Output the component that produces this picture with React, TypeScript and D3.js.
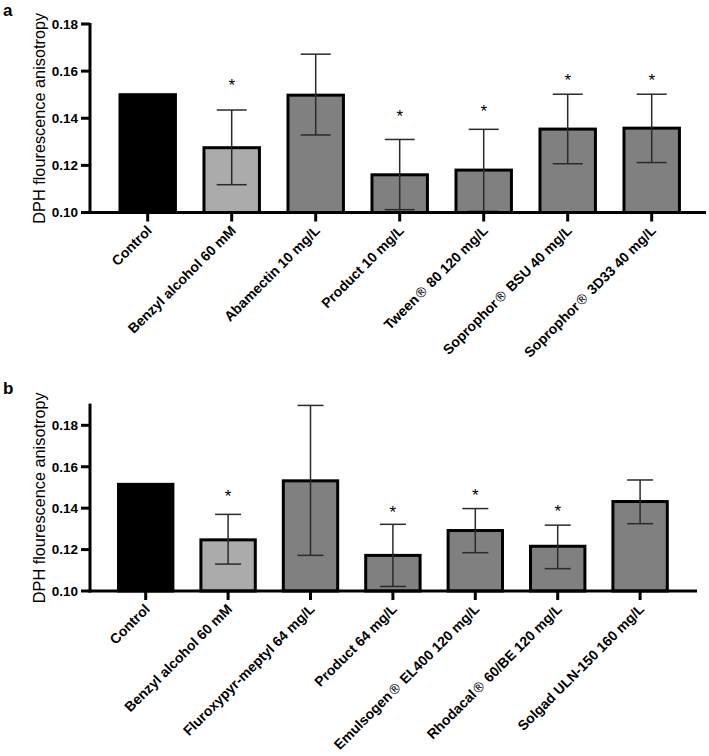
import React from "react";
import * as d3 from "d3";

// ---------- Data ----------
const catsA = [
  "Control",
  "Benzyl alcohol 60 mM",
  "Abamectin 10 mg/L",
  "Product 10 mg/L",
  "Tween® 80 120 mg/L",
  "Soprophor® BSU 40 mg/L",
  "Soprophor® 3D33 40 mg/L",
];
const meanA = [0.150, 0.1275, 0.1498, 0.1160, 0.1180, 0.1354, 0.1358];
const loA: (number | null)[] = [null, 0.1118, 0.1329, 0.1012, 0.1005, 0.1207, 0.1212];
const hiA: (number | null)[] = [null, 0.1435, 0.1672, 0.1310, 0.1353, 0.1502, 0.1502];
const starA: (number | null)[] = [null, 0.1555, null, 0.1422, 0.1443, 0.1575, 0.1575];

const catsB = [
  "Control",
  "Benzyl alcohol 60 mM",
  "Fluroxypyr-meptyl 64 mg/L",
  "Product 64 mg/L",
  "Emulsogen® EL400 120 mg/L",
  "Rhodacal® 60/BE 120 mg/L",
  "Solgad ULN-150 160 mg/L",
];
const meanB = [0.1515, 0.1247, 0.1532, 0.1172, 0.1292, 0.1216, 0.1432];
const loB: (number | null)[] = [null, 0.1130, 0.1172, 0.1022, 0.1185, 0.1108, 0.1325];
const hiB: (number | null)[] = [null, 0.1370, 0.1896, 0.1322, 0.1398, 0.1318, 0.1536];
const starB: (number | null)[] = [null, 0.1474, null, 0.1400, 0.1478, 0.1404, null];

const yTicks = [0.10, 0.12, 0.14, 0.16, 0.18];
const groupColors = ["#000000", "#ababab", "#808080", "#808080", "#808080", "#808080", "#808080"];
const yTitle = "DPH flourescence anisotropy";

const FONT = "'Liberation Sans', Arial, Helvetica, sans-serif";

type PanelProps = {
  letter: string;
  letterY: number;
  cats: string[];
  mean: number[];
  lo: (number | null)[];
  hi: (number | null)[];
  star: (number | null)[];
  yMax: number;
  yPix: [number, number];
  band: [number, number];
  axisEnd: number;
  capHalf: number;
};

function renderLabel(s: string) {
  const parts = s.split("®");
  const out: React.ReactNode[] = [];
  parts.forEach((p, i) => {
    out.push(<tspan key={"p" + i}>{p}</tspan>);
    if (i < parts.length - 1)
      out.push(
        <tspan key={"r" + i} fontWeight="normal" fontFamily="'DejaVu Sans', sans-serif" fontSize="13.5">
          ®
        </tspan>
      );
  });
  return out;
}

function Panel(p: PanelProps) {
  const x0 = 90;
  const y = d3.scaleLinear().domain([0.1, p.yMax]).range(p.yPix);
  const x = d3
    .scaleBand<string>()
    .domain(p.cats)
    .range(p.band)
    .paddingInner(0.34)
    .paddingOuter(0.17);
  const bw = x.bandwidth();
  const base = y(0.1);
  return (
    <g>
      <text x={3} y={p.letterY} fontFamily={FONT} fontWeight="bold" fontSize={17}>
        {p.letter}
      </text>
      <text
        transform={`translate(39,${(y(p.yMax) + base) / 2}) rotate(-90)`}
        textAnchor="middle"
        dominantBaseline="central"
        fontFamily={FONT}
        fontSize={16.3}
      >
        {yTitle}
      </text>
      {/* bars */}
      {p.cats.map((c, i) => (
        <rect
          key={c}
          x={(x(c) as number)}
          y={y(p.mean[i])}
          width={bw}
          height={base - y(p.mean[i])}
          fill={groupColors[i]}
          stroke="#000"
          strokeWidth={3}
        />
      ))}
      {/* error bars */}
      {p.cats.map((c, i) => {
        const lo = p.lo[i];
        const hi = p.hi[i];
        if (lo == null || hi == null) return null;
        const cx = (x(c) as number) + bw / 2;
        return (
          <g key={"e" + c} stroke="#2a2a2a" strokeWidth={1.5}>
            <line x1={cx} x2={cx} y1={y(lo)} y2={y(hi)} />
            <line x1={cx - p.capHalf} x2={cx + p.capHalf} y1={y(hi)} y2={y(hi)} />
            <line x1={cx - p.capHalf} x2={cx + p.capHalf} y1={y(lo)} y2={y(lo)} />
          </g>
        );
      })}
      {/* stars */}
      {p.cats.map((c, i) => {
        const s = p.star[i];
        if (s == null) return null;
        const cx = (x(c) as number) + bw / 2;
        return (
          <text
            key={"s" + c}
            x={cx}
            y={y(s)}
            dy="0.55em"
            textAnchor="middle"
            fontFamily={FONT}
            fontSize={17}
          >
            *
          </text>
        );
      })}
      {/* y axis */}
      <line x1={x0} x2={x0} y1={y(p.yMax) - 1} y2={base + 1.5} stroke="#000" strokeWidth={3} />
      {yTicks.map((t) => (
        <g key={"yt" + t}>
          <line x1={x0 - 9} x2={x0} y1={y(t)} y2={y(t)} stroke="#000" strokeWidth={3} />
          <text
            x={x0 - 12}
            y={y(t)}
            dy="0.36em"
            textAnchor="end"
            fontFamily={FONT}
            fontWeight="bold"
            fontSize={13.5}
          >
            {d3.format(".2f")(t)}
          </text>
        </g>
      ))}
      {/* x axis */}
      <line x1={x0 - 1.5} x2={p.axisEnd} y1={base} y2={base} stroke="#000" strokeWidth={3} />
      {p.cats.map((c) => {
        const cx = (x(c) as number) + bw / 2;
        return (
          <g key={"xt" + c}>
            <line x1={cx} x2={cx} y1={base} y2={base + 9} stroke="#000" strokeWidth={3} />
            <text
              transform={`translate(${cx + 5},${base + 19}) rotate(-45)`}
              textAnchor="end"
              fontFamily={FONT}
              fontWeight="bold"
              fontSize={14}
            >
              {renderLabel(c)}
            </text>
          </g>
        );
      })}
    </g>
  );
}

export default function App() {
  return (
    <svg
      width={709}
      height={756}
      style={{ position: "absolute", left: 0, top: 0, background: "#fff" }}
    >
      <rect width={709} height={756} fill="#fff" />
      <Panel
        letter="a"
        letterY={16}
        cats={catsA}
        mean={meanA}
        lo={loA}
        hi={hiA}
        star={starA}
        yMax={0.18}
        yPix={[212.5, 24]}
        band={[105.7, 693.7]}
        axisEnd={706}
        capHalf={15}
      />
      <Panel
        letter="b"
        letterY={394}
        cats={catsB}
        mean={meanB}
        lo={loB}
        hi={hiB}
        star={starB}
        yMax={0.19}
        yPix={[591, 404.6]}
        band={[104.5, 681.3]}
        axisEnd={697}
        capHalf={13}
      />
    </svg>
  );
}
